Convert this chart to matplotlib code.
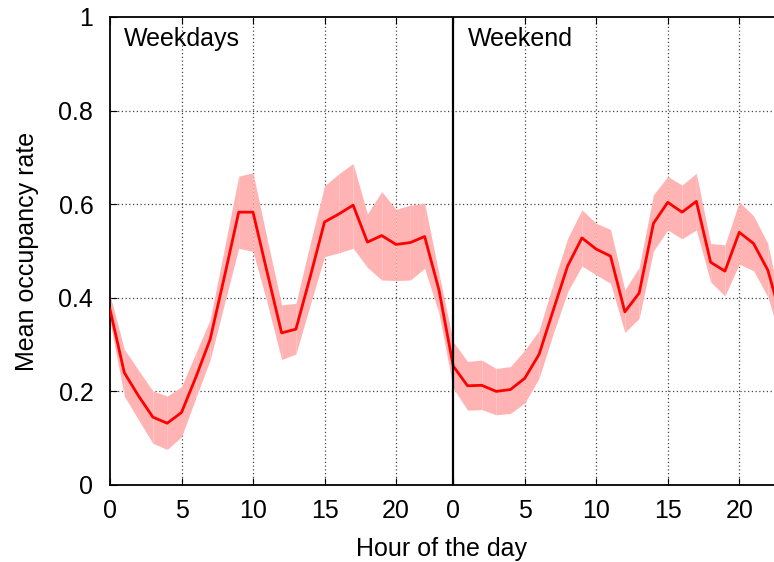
import matplotlib
matplotlib.use("Agg")
import matplotlib.pyplot as plt
import numpy as np

plt.rcParams['font.family'] = ['Liberation Sans', 'DejaVu Sans']

# Hour index over two days: 0-23 weekdays, 24-47 weekend
hours = list(range(48))
mean_rate = [0.375, 0.240, 0.190, 0.145, 0.132, 0.155, 0.230, 0.311, 0.445, 0.583,
             0.583, 0.453, 0.325, 0.333, 0.445, 0.562, 0.579, 0.598, 0.519, 0.533,
             0.514, 0.518, 0.531, 0.417,
             0.254, 0.212, 0.213, 0.200, 0.204, 0.228, 0.279, 0.374, 0.468, 0.528,
             0.504, 0.489, 0.370, 0.410, 0.559, 0.604, 0.583, 0.606, 0.476, 0.457,
             0.540, 0.516, 0.459, 0.350]
upper_rate = [0.406, 0.290, 0.245, 0.201, 0.190, 0.210, 0.282, 0.353, 0.506, 0.660,
              0.667, 0.524, 0.385, 0.388, 0.516, 0.639, 0.665, 0.687, 0.579, 0.627,
              0.589, 0.598, 0.602, 0.452,
              0.306, 0.264, 0.267, 0.249, 0.253, 0.288, 0.330, 0.431, 0.527, 0.588,
              0.559, 0.546, 0.417, 0.465, 0.620, 0.659, 0.641, 0.666, 0.516, 0.513,
              0.605, 0.575, 0.516, 0.370]
lower_rate = [0.349, 0.190, 0.139, 0.089, 0.076, 0.103, 0.186, 0.267, 0.387, 0.506,
              0.499, 0.388, 0.268, 0.280, 0.385, 0.488, 0.496, 0.506, 0.465, 0.438,
              0.437, 0.438, 0.463, 0.367,
              0.207, 0.160, 0.161, 0.150, 0.153, 0.175, 0.228, 0.324, 0.413, 0.468,
              0.449, 0.431, 0.326, 0.356, 0.500, 0.545, 0.526, 0.545, 0.434, 0.404,
              0.472, 0.458, 0.402, 0.300]

xtick_pos = [0, 5, 10, 15, 20, 24, 29, 34, 39, 44]
xtick_labels = ['0', '5', '10', '15', '20', '0', '5', '10', '15', '20']
ytick_pos = [0, 0.2, 0.4, 0.6, 0.8, 1.0]
ytick_labels = ['0', '0.2', '0.4', '0.6', '0.8', '1']
day_labels = ['Weekdays', 'Weekend']
day_label_x = [1, 25]

fig = plt.figure(figsize=(7.74, 5.62), dpi=100)
ax = fig.add_axes([110/774, 77/562, 664/774, 468/562])

x = np.array(hours, dtype=float)
lo = np.array(lower_rate)
hi = np.array(upper_rate)
for i in range(len(x) - 1):
    ax.fill_between(x[i:i+2], lo[i:i+2], hi[i:i+2], color='#ffb3b3',
                    linewidth=0, antialiased=True, zorder=2)
ax.plot(x, mean_rate, color='#ff0000', linewidth=2.0, zorder=3)

ax.axvline(24, color='black', linewidth=1.6, zorder=4)

ax.set_xlim(0, 46.43)
ax.set_ylim(0, 1)
ax.set_xticks(xtick_pos)
ax.set_xticklabels(xtick_labels)
ax.set_yticks(ytick_pos)
ax.set_yticklabels(ytick_labels)

# grid (skip at day boundary and at axis limits)
for gx in [5, 10, 15, 20, 29, 34, 39, 44]:
    ax.axvline(gx, color='#444444', linewidth=0.9, linestyle=(0, (1, 2)), zorder=1)
for gy in [0.2, 0.4, 0.6, 0.8]:
    ax.axhline(gy, color='#444444', linewidth=0.9, linestyle=(0, (1, 2)), zorder=1)

ax.tick_params(direction='in', length=5, width=0.8, labelsize=18,
               top=True, right=False)
ax.tick_params(axis='x', pad=10)
ax.tick_params(axis='y', pad=12)
for side in ['left', 'bottom', 'top']:
    ax.spines[side].set_linewidth(1.3)
ax.spines['right'].set_visible(False)

for lbl, lx in zip(day_labels, day_label_x):
    ax.text(lx, 0.952, lbl, fontsize=18, va='center', ha='left', zorder=5)

ax.set_xlabel('Hour of the day', fontsize=18, labelpad=10)
ax.set_ylabel('Mean occupancy rate', fontsize=18, labelpad=14)

fig.savefig('out.png', dpi=100)
